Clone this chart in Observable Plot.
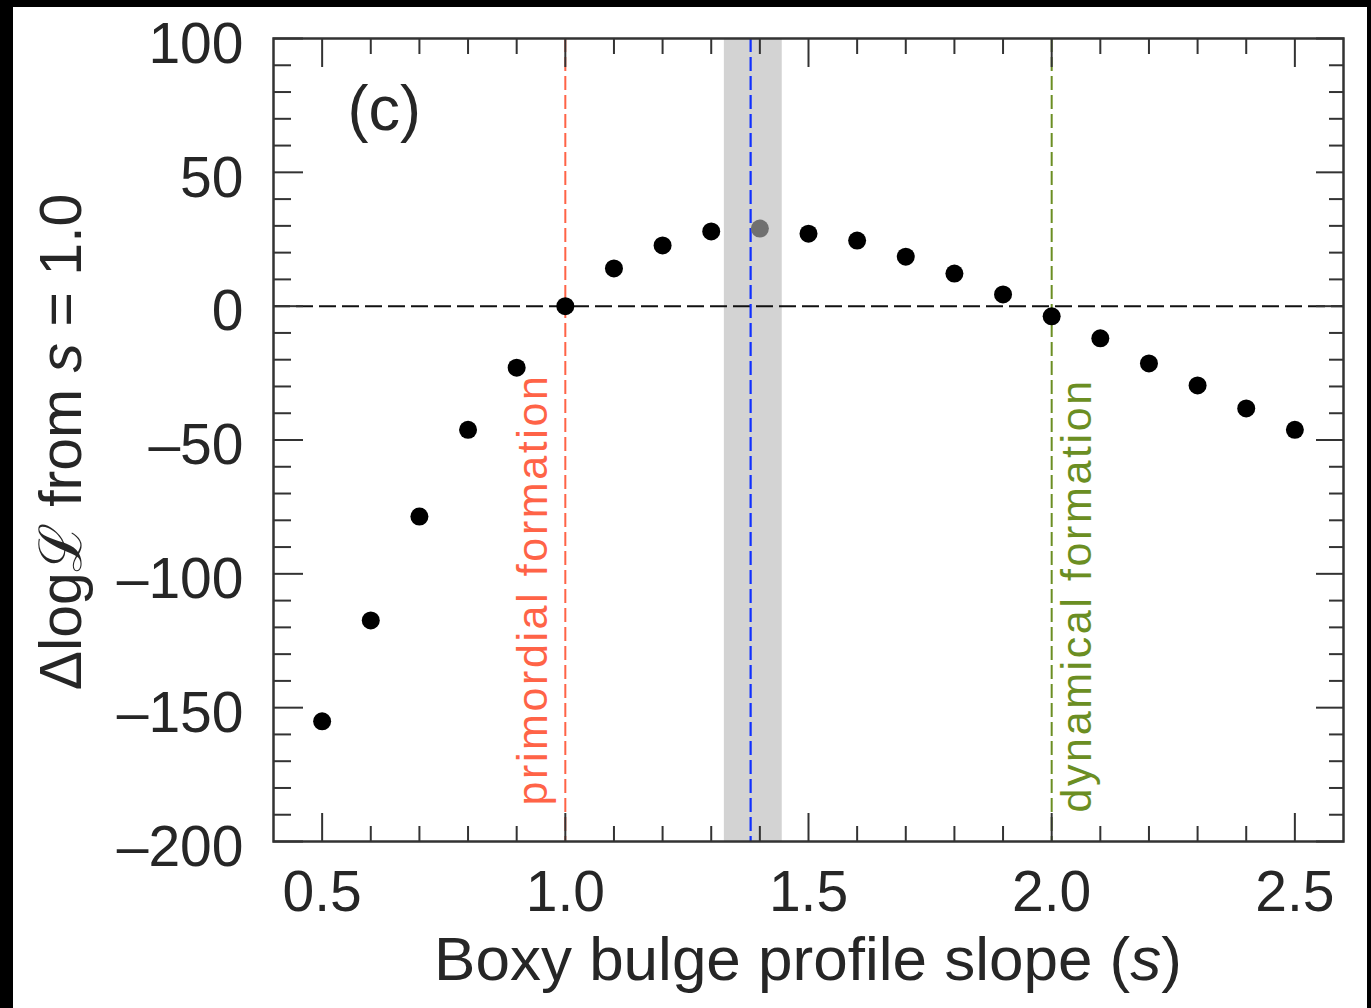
<!DOCTYPE html>
<html>
<head>
<meta charset="utf-8">
<script src="https://cdn.jsdelivr.net/npm/d3@7"></script>
<script src="https://cdn.jsdelivr.net/npm/@observablehq/plot@0.6"></script>
<style>
  html, body { margin: 0; padding: 0; background: #000; width: 1371px; height: 1008px; overflow: hidden; }
  #chart { position: absolute; left: 13px; top: 7px; width: 1354px; height: 1001px; background: #fff; }
</style>
</head>
<body>
<div id="chart"></div>
<script>
// ---- data ----
const slopes = [0.5, 0.6, 0.7, 0.8, 0.9, 1.0, 1.1, 1.2, 1.3, 1.4, 1.5, 1.6, 1.7, 1.8, 1.9, 2.0, 2.1, 2.2, 2.3, 2.4, 2.5];
const dLogL = [-155.1, -117.4, -78.6, -46.2, -23.0, 0, 14.1, 22.7, 27.9, 29.0, 27.1, 24.5, 18.5, 12.2, 4.4, -3.8, -12.0, -21.4, -29.6, -38.2, -46.2];
const bestSlope = 1.4;            // highlighted (grey) point
const bestFit = 1.381;            // blue dashed line
const bestFitLow = 1.327;         // grey band
const bestFitHigh = 1.446;
const formationSlopes = [1.0, 2.0];
const formationNames = ["primordial formation", "dynamical formation"];
const formationColors = ["#ff6347", "#6b8e23"];

const xMajor = [0.5, 1.0, 1.5, 2.0, 2.5];
const xMinor = [0.6, 0.7, 0.8, 0.9, 1.1, 1.2, 1.3, 1.4, 1.6, 1.7, 1.8, 1.9, 2.1, 2.2, 2.3, 2.4];
const yMajor = [-200, -150, -100, -50, 0, 50, 100];
const yMinor = [-190, -180, -170, -160, -140, -130, -120, -110, -90, -80, -70, -60, -40, -30, -20, -10, 10, 20, 30, 40, 60, 70, 80, 90];
const xLabel = "Boxy bulge profile slope";
const panelLabel = "(c)";

const points = slopes.map((s, i) => ({s, v: dLogL[i]}));
const band = [{x1: bestFitLow, x2: bestFitHigh}];
const formations = formationSlopes.map((s, i) => ({s, name: formationNames[i], color: formationColors[i]}));

const ink = "#262626";
const fmtY = d => d < 0 ? "\u2013" + Math.abs(d) : String(d);
const blank = () => "";

const plot = Plot.plot({
  width: 1354,
  height: 1001,
  marginLeft: 260,
  marginTop: 31,
  marginRight: 24,
  marginBottom: 167,
  style: {background: "#fff", fontFamily: "'Liberation Sans', Arial, Helvetica, sans-serif", color: ink},
  x: {domain: [0.4, 2.6], label: null},
  y: {domain: [-200, 100], label: null},
  marks: [
    Plot.rect(band, {x1: "x1", x2: "x2", fill: "#d3d3d3"}),
    Plot.ruleY([0], {stroke: "#111", strokeWidth: 2, strokeDasharray: "17,6"}),
    Plot.ruleX(formations, {x: "s", stroke: "color", strokeWidth: 2, strokeDasharray: "14,5"}),
    Plot.ruleX([bestFit], {stroke: "#1030ff", strokeWidth: 2.2, strokeDasharray: "14,5"}),
    Plot.dot(points, {x: "s", y: "v", r: 9, fill: d => d.s === bestSlope ? "#707070" : "#000", stroke: "none"}),
    Plot.text(formations.slice(0, 1), {x: "s", frameAnchor: "bottom", text: "name", fill: "color", rotate: -90,
      textAnchor: "start", lineAnchor: "bottom", dx: -18, dy: -36, fontSize: 43}),
    Plot.text(formations.slice(1), {x: "s", frameAnchor: "bottom", text: "name", fill: "color", rotate: -90,
      textAnchor: "start", lineAnchor: "top", dx: 9, dy: -29, fontSize: 43}),
    Plot.text([panelLabel], {frameAnchor: "top-left", text: d => d, dx: 74, dy: 47, textAnchor: "start", lineAnchor: "top", fontSize: 63, fill: ink}),
    Plot.frame({stroke: "#333", strokeWidth: 2.5}),
    // ticks (inward, on all four sides)
    Plot.axisX({anchor: "bottom", ticks: xMajor, tickSize: -28, tickFormat: blank, label: null, stroke: "#333", strokeWidth: 2}),
    Plot.axisX({anchor: "bottom", ticks: xMinor, tickSize: -15, tickFormat: blank, label: null, stroke: "#333", strokeWidth: 2}),
    Plot.axisX({anchor: "top", ticks: xMajor, tickSize: -28, tickFormat: blank, label: null, stroke: "#333", strokeWidth: 2}),
    Plot.axisX({anchor: "top", ticks: xMinor, tickSize: -15, tickFormat: blank, label: null, stroke: "#333", strokeWidth: 2}),
    Plot.axisY({anchor: "left", ticks: yMajor, tickSize: -30, tickFormat: blank, label: null, stroke: "#333", strokeWidth: 2}),
    Plot.axisY({anchor: "left", ticks: yMinor, tickSize: -18, tickFormat: blank, label: null, stroke: "#333", strokeWidth: 2}),
    Plot.axisY({anchor: "right", ticks: yMajor, tickSize: -28, tickFormat: blank, label: null, stroke: "#333", strokeWidth: 2}),
    Plot.axisY({anchor: "right", ticks: yMinor, tickSize: -15, tickFormat: blank, label: null, stroke: "#333", strokeWidth: 2}),
    // tick labels
    Plot.axisX({anchor: "bottom", ticks: xMajor, tickSize: 0, tickPadding: 29, tickFormat: d3.format(".1f"), label: null, fontSize: 57, fill: ink}),
    Plot.axisY({anchor: "left", ticks: yMajor, tickSize: 0, tickPadding: 30, tickFormat: fmtY, label: null, fontSize: 57, fill: ink, dy: 6})
  ]
});
document.getElementById("chart").appendChild(plot);

const svg = d3.select(plot);
// widen the rotated formation labels like the reference
svg.selectAll("text").filter(function () { return formationNames.includes(this.textContent); })
  .attr("letter-spacing", "2.6px");

// axis titles with italic variable
const xt = svg.append("text")
  .attr("x", 808 - 13).attr("y", 980 - 7)
  .attr("text-anchor", "middle")
  .attr("font-size", 62)
  .attr("fill", ink);
xt.append("tspan").text(xLabel + " (");
xt.append("tspan").attr("font-style", "italic").text("s");
xt.append("tspan").text(")");

const yt = svg.append("text")
  .attr("transform", `translate(${81 - 13},${442 - 7}) rotate(-90)`)
  .attr("text-anchor", "middle")
  .attr("font-size", 59)
  .attr("fill", ink);
yt.append("tspan").text("\u0394log\u2112 from ");
yt.append("tspan").attr("font-style", "italic").text("s");
yt.append("tspan").text(" = 1.0");
</script>
</body>
</html>
